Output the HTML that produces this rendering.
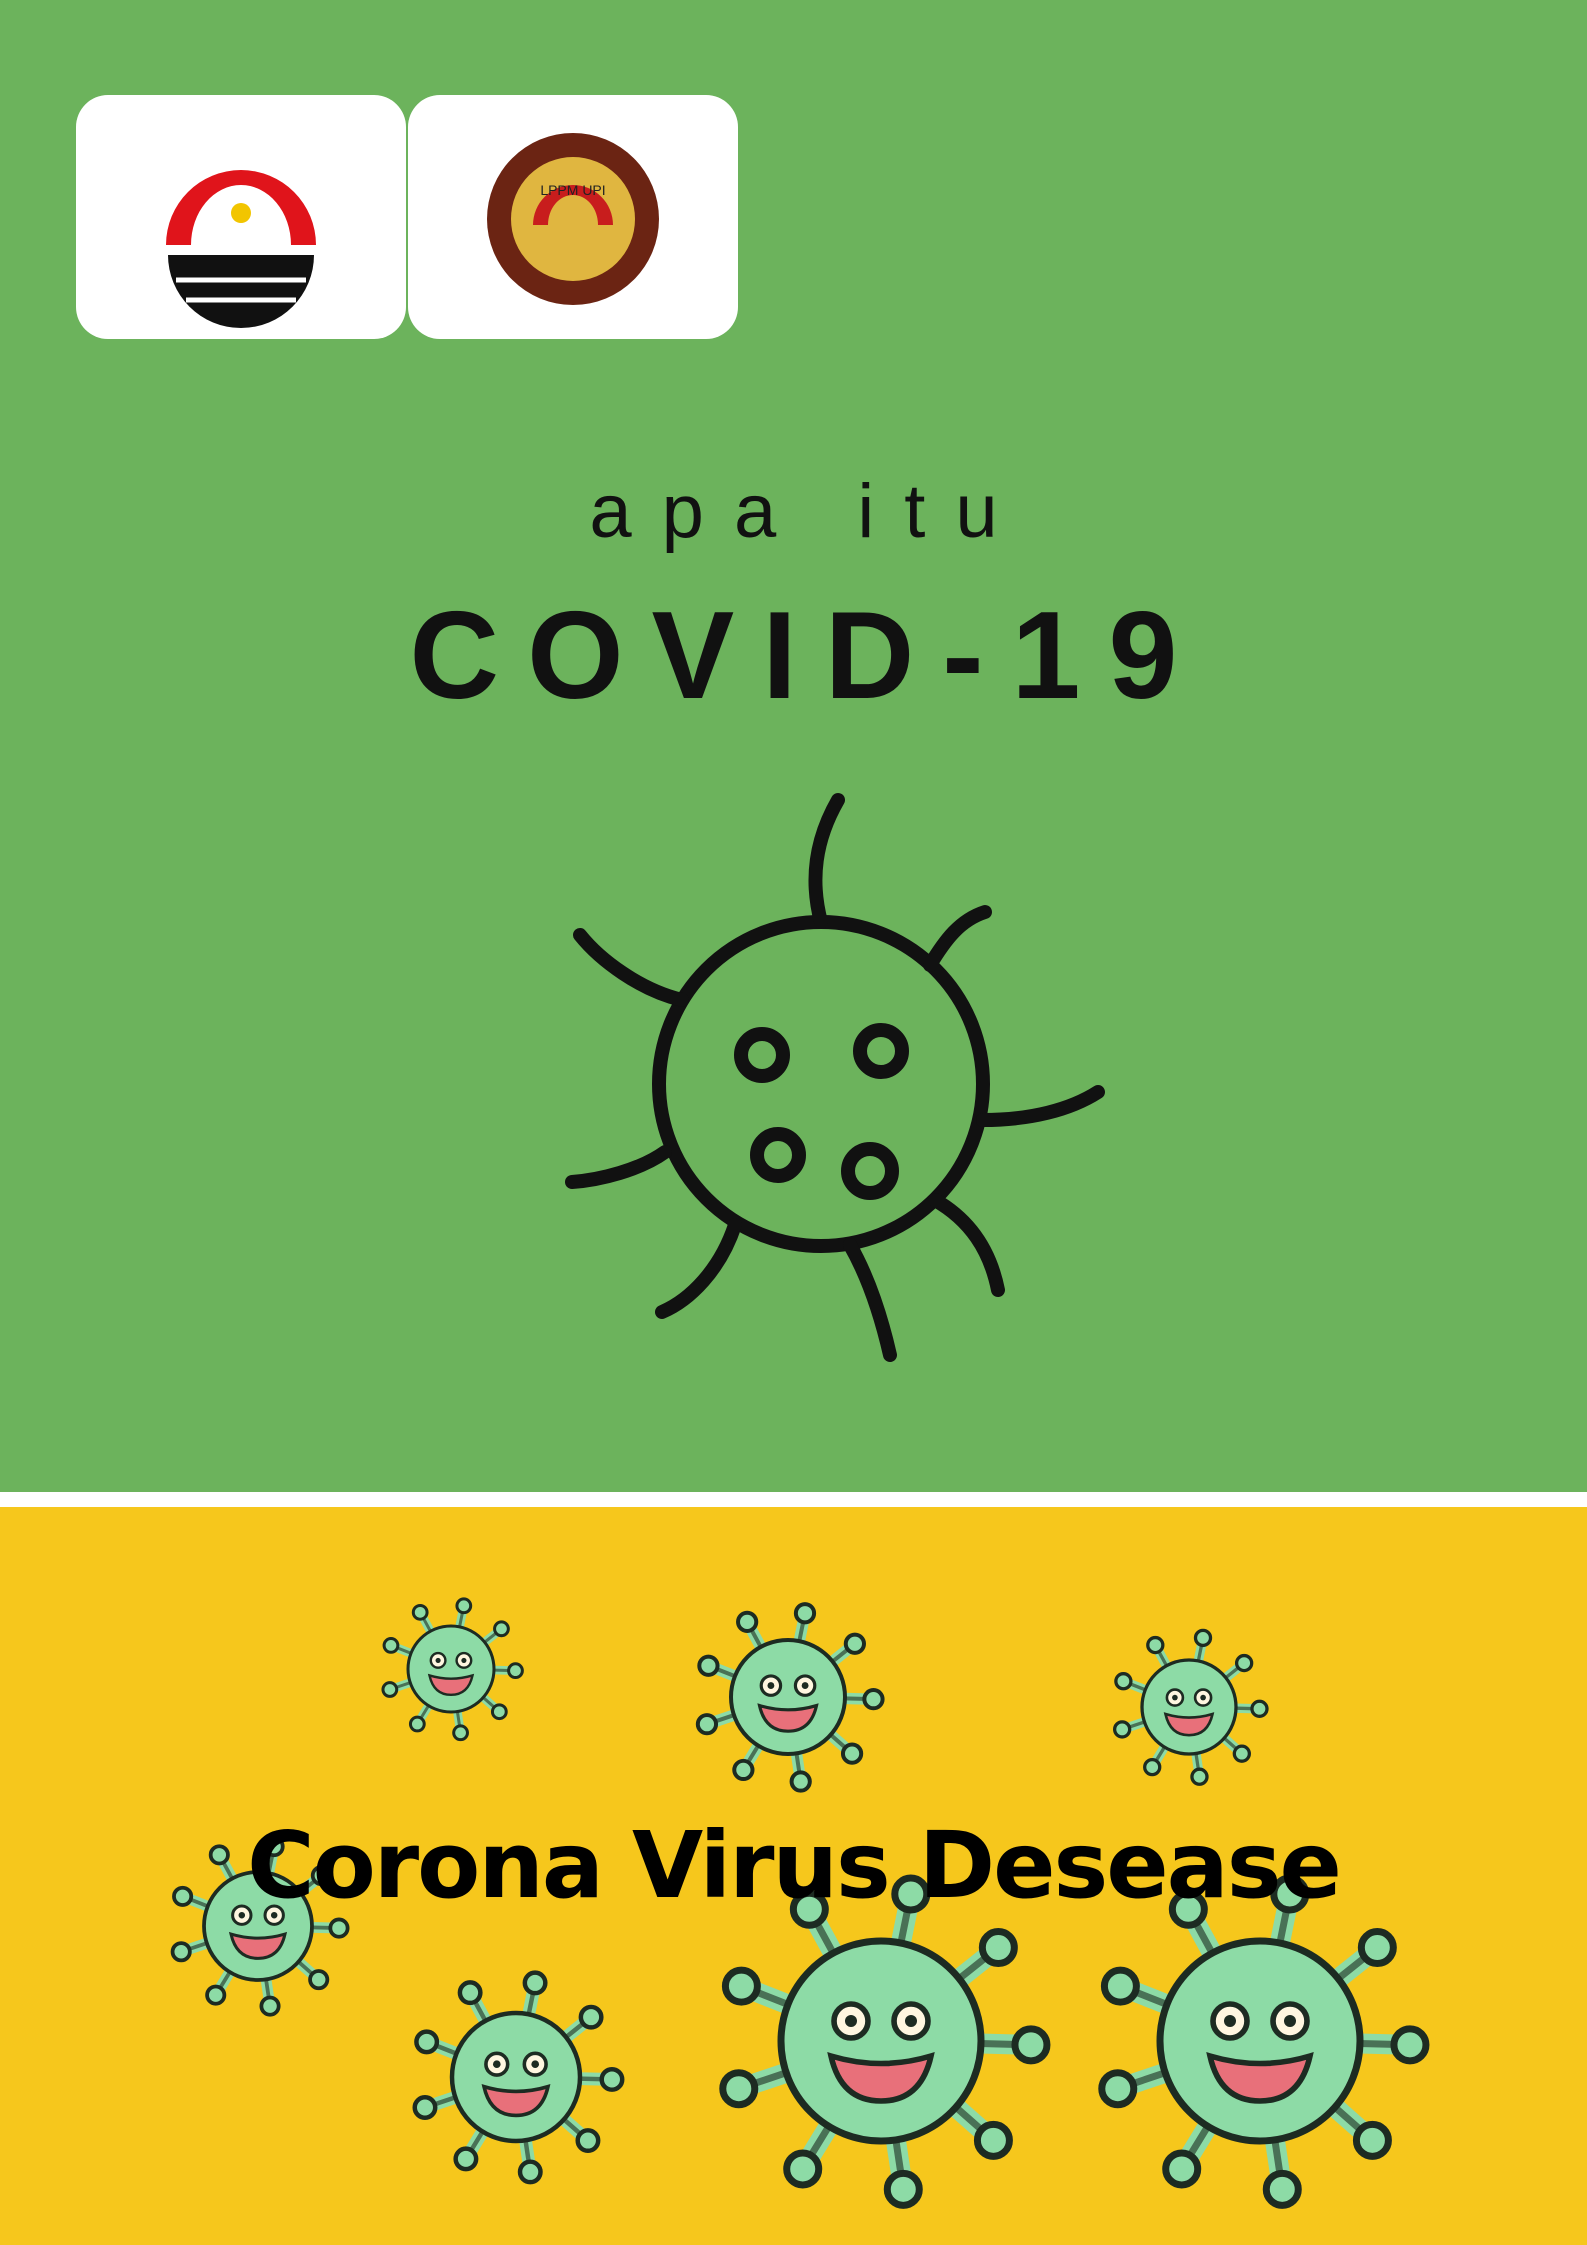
<!DOCTYPE html>
<html><head><meta charset="utf-8">
<style>
html,body{margin:0;padding:0;}
body{width:1587px;height:2245px;position:relative;overflow:hidden;background:#fff;font-family:"Liberation Sans",sans-serif;}
#green{position:absolute;left:0;top:0;width:1587px;height:1492px;background:#6cb35c;}
#yellow{position:absolute;left:0;top:1507px;width:1587px;height:738px;background:#f6c71c;}
.logo{position:absolute;top:95px;width:330px;height:244px;background:#fff;border-radius:32px;}
#t1{position:absolute;left:0;width:1587px;top:468px;text-align:center;font-size:76px;letter-spacing:30px;padding-left:30px;box-sizing:border-box;color:#111;}
#t2{position:absolute;left:0;width:1587px;top:585px;text-align:center;font-size:124px;font-weight:bold;letter-spacing:28px;padding-left:28px;box-sizing:border-box;color:#111;}
#t3{position:absolute;left:0;width:1587px;top:1812px;text-align:center;font-size:92px;font-weight:bold;color:#000;font-family:"DejaVu Sans","Liberation Sans",sans-serif;letter-spacing:-2px;z-index:5;}
svg{position:absolute;left:0;top:0;}
</style></head><body>
<div id="green"></div>
<div id="yellow"></div>
<div class="logo" style="left:76px">
<svg width="330" height="244" viewBox="0 0 330 244">
<circle cx="165" cy="118" r="10" fill="#f2c500"/>
<path d="M90 150 A75 75 0 0 1 240 150 L215 150 A50 60 0 0 0 115 150 Z" fill="#e0141b"/>
<path d="M92 160 L238 160 A73 73 0 0 1 92 160 Z" fill="#111"/>
<path d="M100 185 L230 185 M110 205 L220 205" stroke="#fff" stroke-width="5"/>
</svg></div>
<div class="logo" style="left:408px">
<svg width="330" height="244" viewBox="0 0 330 244">
<circle cx="165" cy="124" r="86" fill="#6b2413"/>
<circle cx="165" cy="124" r="62" fill="#e0b640"/>
<path d="M125 130 A40 40 0 0 1 205 130 L190 130 A25 30 0 0 0 140 130 Z" fill="#c81d1d"/>
<text x="165" y="100" font-size="14" text-anchor="middle" fill="#222" font-family="Liberation Sans">LPPM UPI</text>
</svg></div>
<div id="t1">apa itu</div>
<div id="t2">COVID-19</div>
<svg width="1587" height="1500" style="fill:none;stroke:#111;stroke-width:14;stroke-linecap:round">
<circle cx="821" cy="1084" r="162"/>
<circle cx="762" cy="1055" r="21"/><circle cx="881" cy="1051" r="21"/>
<circle cx="778" cy="1155" r="21"/><circle cx="870" cy="1171" r="22"/>
<path d="M821 922 C810 880 815 840 838 800"/>
<path d="M682 1000 C640 990 600 960 580 935"/>
<path d="M930 965 C945 940 960 920 985 912"/>
<path d="M983 1120 C1030 1120 1070 1110 1098 1092"/>
<path d="M665 1152 C640 1170 600 1180 572 1182"/>
<path d="M735 1225 C720 1270 690 1300 662 1312"/>
<path d="M850 1245 C870 1280 882 1320 890 1355"/>
<path d="M935 1200 C970 1220 990 1250 998 1290"/>
</svg>
<svg id="cv" width="1587" height="2245"></svg>
<div id="t3">Corona Virus Desease</div>
<script>
const vx=[451,788,1189,258,516,881,1260];
const vy=[1669,1697,1707,1926,2077,2041,2041];
const vr=[43,57,47,54,64,100,100];
const ns="http://www.w3.org/2000/svg";
const svg=document.getElementById('cv');
function mk(t,a){const e=document.createElementNS(ns,t);for(const k in a)e.setAttribute(k,a[k]);return e;}
for(let i=0;i<vx.length;i++){
 const g=mk('g',{});
 
 
 const x=vx[i],y=vy[i],r=vr[i],sw=Math.max(3,r*0.07);
 for(let k=0;k<9;k++){
  const a=k*2*Math.PI/9-Math.PI/2+0.2;
  const x1=x+Math.cos(a)*r*0.9,y1=y+Math.sin(a)*r*0.9,x2=x+Math.cos(a)*r*1.5,y2=y+Math.sin(a)*r*1.5;
  g.appendChild(mk('line',{x1,y1,x2,y2,stroke:'#8ddba6','stroke-width':r*0.2,'stroke-linecap':'round'}));
  g.appendChild(mk('line',{x1,y1,x2,y2,stroke:'#1d2b22','stroke-width':sw,'stroke-linecap':'round',opacity:0.6}));
  g.appendChild(mk('circle',{cx:x2,cy:y2,r:r*0.16,fill:'#8ddba6',stroke:'#1d2b22','stroke-width':sw}));
 }
 g.appendChild(mk('circle',{cx:x,cy:y,r:r,fill:'#8ddba6',stroke:'#1d2b22','stroke-width':sw}));
 g.appendChild(mk('circle',{cx:x-r*0.3,cy:y-r*0.2,r:r*0.17,fill:'#fff6e0',stroke:'#1d2b22','stroke-width':sw*0.8}));
 g.appendChild(mk('circle',{cx:x+r*0.3,cy:y-r*0.2,r:r*0.17,fill:'#fff6e0',stroke:'#1d2b22','stroke-width':sw*0.8}));
 g.appendChild(mk('circle',{cx:x-r*0.3,cy:y-r*0.2,r:r*0.06,fill:'#1d2b22'}));
 g.appendChild(mk('circle',{cx:x+r*0.3,cy:y-r*0.2,r:r*0.06,fill:'#1d2b22'}));
 g.appendChild(mk('path',{d:`M${x-r*0.5} ${y+r*0.15} Q${x} ${y+r*0.3} ${x+r*0.5} ${y+r*0.15} Q${x+r*0.4} ${y+r*0.6} ${x} ${y+r*0.6} Q${x-r*0.4} ${y+r*0.6} ${x-r*0.5} ${y+r*0.15}Z`,fill:'#e8707a',stroke:'#1d2b22','stroke-width':sw*0.8}));
 svg.appendChild(g);
}
</script>
</body></html>
